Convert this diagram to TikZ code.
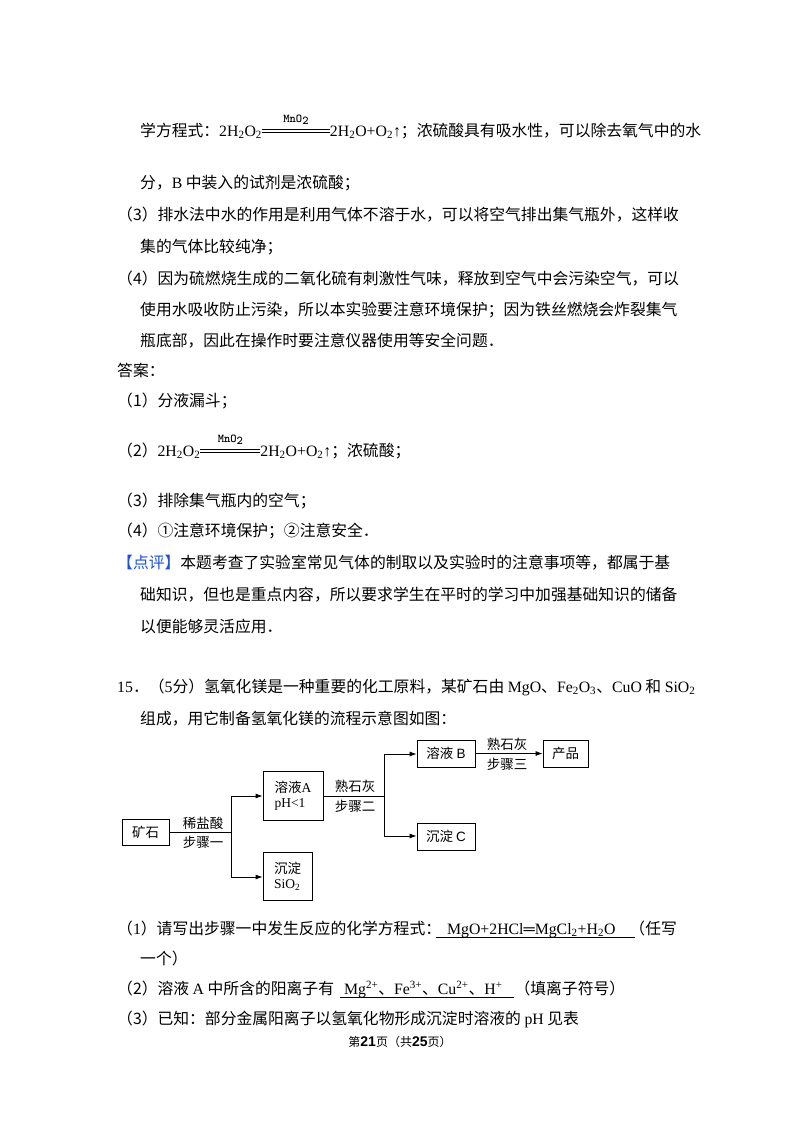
\documentclass[tikz,border=0pt]{standalone}
\usepackage{fontspec}
\setmainfont{Noto Sans CJK SC}
\newfontfamily\lat{Liberation Serif}
\newfontfamily\lats{Liberation Sans}
\usetikzlibrary{arrows.meta}
\newcommand\eqsgn[1]{\makebox[#1][l]{\rlap{\raisebox{3.2pt}{\rule{#1}{0.6pt}}}\rlap{\raisebox{6.2pt}{\rule{#1}{0.6pt}}}\raisebox{14pt}{\makebox[#1]{\ttfamily\bfseries\fontsize{12}{12}\selectfont MnO\raisebox{-2pt}{2}}}}}
\begin{document}
\begin{tikzpicture}[x=1pt,y=-1pt,
  t/.style={anchor=base west,inner sep=0pt,font=\fontsize{15.8}{16}\selectfont},
  box/.style={draw,line width=0.8pt,inner sep=0pt,font=\fontsize{13.5}{15}\selectfont},
  lab/.style={inner sep=0pt,font=\fontsize{13.5}{15}\selectfont},
  ln/.style={line width=0.8pt},
  ar/.style={line width=0.8pt,-{Latex[length=7pt,width=5pt]}}]
\useasboundingbox[fill=white] (0,0) rectangle (800,1132);
% --- upper text
\node[t] (l1) at (140,136) {学方程式：{\lat 2H\textsubscript{2}O\textsubscript{2}\eqsgn{68pt}2H\textsubscript{2}O+O\textsubscript{2}↑}；浓硫酸具有吸水性，可以除去氧气中的水};
\node[t] (l2) at (140,188) {分，{\lat B} 中装入的试剂是浓硫酸；};
\node[t] (l3) at (117,220) {（3）排水法中水的作用是利用气体不溶于水，可以将空气排出集气瓶外，这样收};
\node[t] (l4) at (140,252) {集的气体比较纯净；};
\node[t] (l5) at (117,284) {（4）因为硫燃烧生成的二氧化硫有刺激性气味，释放到空气中会污染空气，可以};
\node[t] (l6) at (140,315) {使用水吸收防止污染，所以本实验要注意环境保护；因为铁丝燃烧会炸裂集气};
\node[t] (l7) at (140,346) {瓶底部，因此在操作时要注意仪器使用等安全问题．};
\node[t] (l8) at (117,376) {答案：};
\node[t] (l9) at (117,406) {（1）分液漏斗；};
\node[t] (l10) at (117,456) {（2）{\lat 2H\textsubscript{2}O\textsubscript{2}\eqsgn{60pt}2H\textsubscript{2}O+O\textsubscript{2}↑}；浓硫酸；};
\node[t] (l11) at (117,506) {（3）排除集气瓶内的空气；};
\node[t] (l12) at (117,536) {（4）①注意环境保护；②注意安全．};
\node[t] (l13) at (117,568) {\textcolor[RGB]{30,80,220}{【点评】}本题考查了实验室常见气体的制取以及实验时的注意事项等，都属于基};
\node[t] (l14) at (140,600) {础知识，但也是重点内容，所以要求学生在平时的学习中加强基础知识的储备};
\node[t] (l15) at (140,632) {以便能够灵活应用．};
\node[t] (l16) at (117,692) {{\lat 15}．（{\lat 5}分）氢氧化镁是一种重要的化工原料，某矿石由 {\lat MgO}、{\lat Fe\textsubscript{2}O\textsubscript{3}}、{\lat CuO} 和 {\lat SiO\textsubscript{2}}};
\node[t] (l17) at (140,724) {组成，用它制备氢氧化镁的流程示意图如图：};
% --- flowchart
\node[box,minimum width=47pt,minimum height=26pt] (ore) at (145.5,832) {矿石};
\node[box,minimum width=60pt,minimum height=49pt,align=left] (A) at (293,795.5) {溶液{\lat A}\\{\lat pH<1}};
\node[box,minimum width=49pt,minimum height=48pt,align=left] (S) at (287.5,876) {沉淀\\{\lat SiO\textsubscript{2}}};
\node[box,minimum width=58pt,minimum height=27pt] (B) at (446,753.5) {溶液 {\lats B}};
\node[box,minimum width=58pt,minimum height=27pt] (C) at (446,836.5) {沉淀 {\lats C}};
\node[box,minimum width=45pt,minimum height=27pt] (P) at (565.5,753.5) {产品};
\coordinate (j1) at (231,832);
\coordinate (j2) at (384,796);
\draw[ln] (ore.east) -- (j1);
\draw[ln] (231,796) -- (231,877);
\draw[ar] (231,796) -- (A.west|-0,796);
\draw[ar] (231,877) -- (S.west|-0,877);
\node[lab] (r1) at (203,823) {稀盐酸};
\node[lab] (s1) at (203,842) {步骤一};
\draw[ln] (A.east|-0,796) -- (j2);
\draw[ln] (384,754) -- (384,836);
\draw[ar] (384,754) -- (B.west|-0,754);
\draw[ar] (384,836) -- (C.west|-0,836);
\node[lab] (r2) at (355,786) {熟石灰};
\node[lab] (s2) at (355,806) {步骤二};
\draw[ar] (B.east) -- (P.west);
\node[lab] (r3) at (507,744) {熟石灰};
\node[lab] (s3) at (507,764) {步骤三};
% --- lower text
\node[t] (q1) at (117,934) {（{\lat 1}）请写出步骤一中发生反应的化学方程式：\hspace{6pt}{\lat MgO+2HCl═MgCl\textsubscript{2}+H\textsubscript{2}O}\hspace{14pt}（任写};
\draw[line width=0.6pt] (436,937) -- (635,937);
\node[t] (q2) at (140,964) {一个）};
\node[t] (q3) at (117,994) {（2）溶液 {\lat A} 中所含的阳离子有\hspace{10pt}{\lat Mg\textsuperscript{2+}}、{\lat Fe\textsuperscript{3+}}、{\lat Cu\textsuperscript{2+}}、{\lat H\textsuperscript{+}}\hspace{12pt}（填离子符号）};
\draw[line width=0.6pt] (340,997) -- (514,997);
\node[t] (q4) at (117,1024) {（3）已知：部分金属阳离子以氢氧化物形成沉淀时溶液的 {\lat pH} 见表};
\node[anchor=base,inner sep=0pt,font=\fontsize{12}{12}\selectfont] (ft) at (400,1046) {第{\bfseries\lats\fontsize{14}{14}\selectfont 21}页（共{\bfseries\lats\fontsize{14}{14}\selectfont 25}页）};
\end{tikzpicture}
\end{document}
